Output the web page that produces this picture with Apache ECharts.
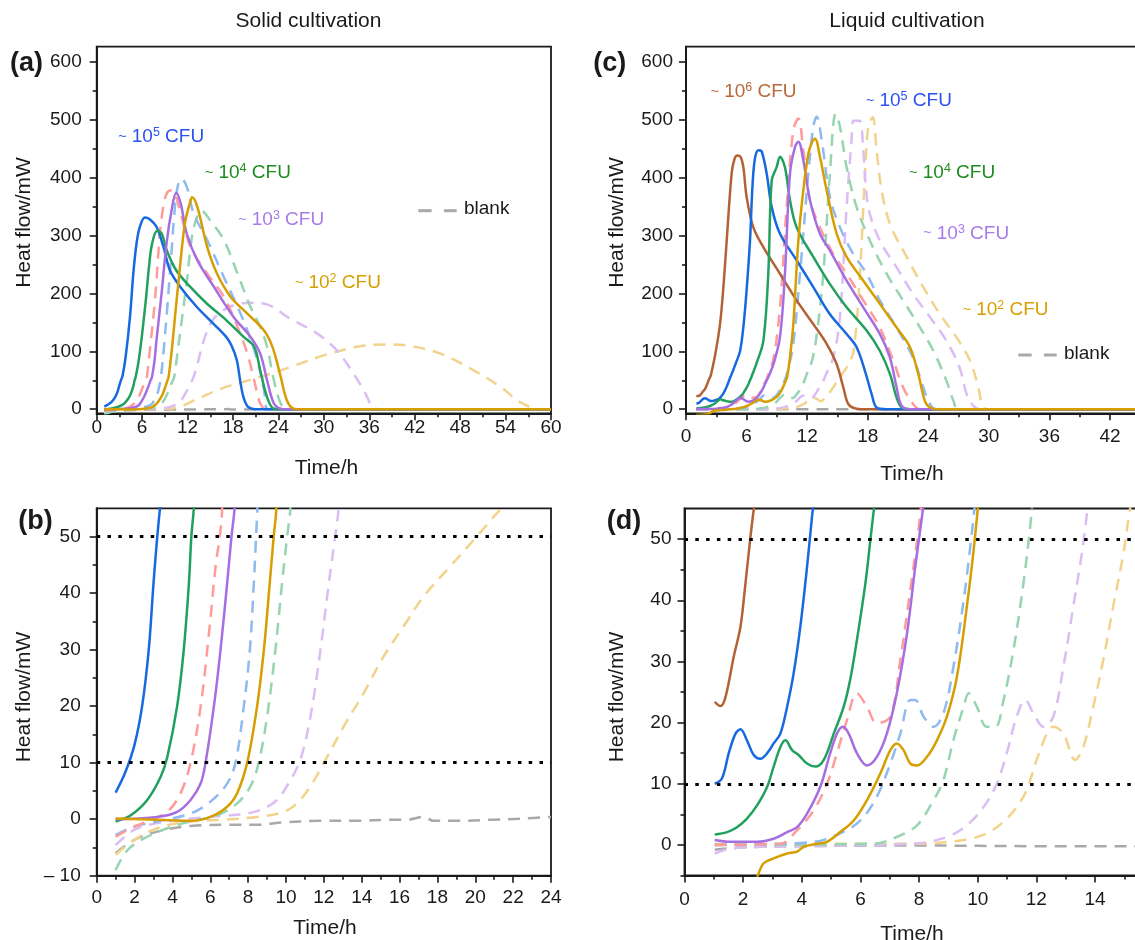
<!DOCTYPE html>
<html><head><meta charset="utf-8">
<script src="https://cdn.jsdelivr.net/npm/echarts@6/dist/echarts.min.js"></script>
<style>html,body{margin:0;padding:0;background:#fff}#c{width:1135px;height:940px}</style>
</head><body><div id="c"></div>
<script>
// ---------------- DATA: solid cultivation (panels a, b) ----------------
const solid5 = [[1,4.7],[1.5,8.2],[2,13.2],[2.4,20],[2.75,30],[3.0,41.7],[3.2,50],[3.4,57],[3.8,88],[4.4,160],[4.84,235],[5.27,287],[5.7,315],[6.37,331],[7.0,328],[7.9,315],[8.8,281],[9.67,240],[11.0,212],[13.2,177],[15.4,148],[17.1,125],[17.8,110],[18.5,85],[19.0,45],[19.4,20],[19.9,5],[20.5,1],[21.5,0],[40,0],[60,0]];
const solid4 = [[1,-0.4],[1.8,0.7],[2.67,3.4],[3.38,7.5],[3.73,11],[4.25,20],[4.6,30],[4.87,41.7],[5.0,50],[5.13,55],[5.5,80],[6.0,130],[6.5,190],[6.9,245],[7.3,285],[8.0,308],[8.6,303],[9.23,275],[10.5,240],[12.3,212],[14.5,183],[17.1,154],[19.4,125],[20.8,108],[21.6,67],[22.5,21],[23.4,1],[24.5,0],[60,0]];
const solid3 = [[1,0],[3.2,0.4],[4.25,1.3],[4.96,3.4],[5.49,6.3],[5.75,10],[6.19,19.9],[6.54,29.9],[6.89,41.7],[7.12,50],[7.28,55],[7.6,80],[7.9,120],[8.57,200],[9.23,287],[9.9,344],[10.5,374],[11.1,355],[11.9,303],[13.3,257],[15.5,211],[18.1,159],[20.3,125],[21.6,96],[22.5,50],[23.4,10],[24.3,1],[25,0],[60,0]];
const solid2 = [[1,0.1],[3.2,-0.1],[4.96,-0.3],[6.01,0.4],[6.89,2.2],[7.42,4.6],[7.95,10],[8.47,19.9],[8.83,29.9],[9.14,41.7],[9.35,50],[9.49,55],[9.9,100],[10.3,154],[11.0,246],[11.65,321],[12.3,356],[12.6,366],[13.3,349],[14.6,280],[15.9,234],[17.7,194],[19.9,165],[22.1,136],[23.2,108],[24.3,56],[25.1,16],[26,1],[27,0],[60,0]];
const solidDashRed = [[1,-3.1],[1.8,-1.6],[2.67,-0.4],[3.73,1.3],[4.43,4.6],[4.96,10],[5.49,19.9],[5.93,32.9],[6.28,44.7],[6.5,50],[6.63,55],[7.0,100],[7.7,189],[8.35,304],[8.8,350],[9.3,374],[9.9,378],[10.4,370],[11.1,338],[12.4,280],[14.6,234],[16.8,194],[18.6,142],[19.9,96],[20.8,50],[21.6,10],[22.5,0],[60,0]];
const solidDashBlue = [[1,-2.8],[1.97,-1.3],[3.2,-0.4],[4.96,1],[6.01,3.1],[6.89,6.3],[7.33,10],[7.77,19.9],[8.09,29.9],[8.3,41.7],[8.42,50],[8.5,56],[8.9,110],[9.3,172],[9.9,275],[10.3,344],[10.7,385],[11.2,398],[11.9,384],[12.8,338],[14.6,292],[16.8,228],[18.6,177],[19.9,136],[21.2,85],[22.1,33],[22.7,0],[60,0]];
const solidDashGreen = [[1,-9],[1.62,-5.5],[2.5,-3.4],[3.73,-1.6],[4.96,-0.4],[6.37,0.7],[7.42,2.8],[8.12,5.8],[8.56,10],[9.0,18.1],[9.44,29.9],[9.79,41.7],[10.06,50],[10.23,55],[10.6,90],[11.3,160],[11.9,220],[12.6,300],[13.2,330],[13.8,343],[15.0,326],[16.8,292],[18.6,234],[20.3,177],[21.6,142],[22.5,108],[23.4,50],[24.3,10],[25.1,0],[60,0]];
const solidDashPurple = [[1,-4.6],[1.97,-1.9],[3.2,-0.7],[4.96,0.1],[6.72,0.6],[7.95,1],[8.83,1.9],[9.53,3.4],[10.23,6.9],[10.76,10.5],[11.29,18.1],[11.82,29.9],[12.26,41.7],[12.6,50],[12.78,55],[13.3,78],[14.3,125],[15.5,157],[17.6,177],[20.3,184],[22.5,181],[25.6,156],[29.1,131],[31.7,102],[33.9,62],[35.5,27],[36.4,4],[37.2,0],[60,0]];
const solidDashGold = [[1,-6.3],[1.97,-3.7],[3.2,-1.6],[4.96,-0.4],[6.72,-0.1],[8.47,0.4],[9.88,1.3],[10.58,2.8],[11.29,5.8],[11.99,9.9],[13.05,16.4],[14.1,22.3],[15.16,28.8],[16.21,34.1],[17.27,39.4],[18.67,44.7],[20.08,50],[21.13,54.1],[22.2,58],[25.6,73],[30,93],[34.4,108],[37.9,112],[41,110],[45.4,96],[49.8,67],[53.3,39],[55.5,16],[57.2,4],[58.5,0],[60,0]];
const solidBlank = [[1,-6],[1.97,-3.7],[3.2,-2.2],[4.96,-1.2],[7.07,-1.0],[8.47,-1.0],[9.7,-0.6],[11.8,-0.3],[13.75,-0.3],[15.5,-0.1],[16.4,-0.1],[17.27,0.4],[17.8,-0.3],[19,-0.3],[20.8,-0.1],[22.5,0.1],[24,0.4]];

// ---------------- DATA: liquid cultivation (panels c, d) ----------------
const liquid6 = [[1.03,23.4],[1.23,22.7],[1.4,24.2],[1.68,30.8],[1.91,35.7],[2.08,42.8],[2.25,50.4],[2.36,54.8],[2.45,58],[2.9,95],[3.37,147],[3.7,210],[4.03,291],[4.52,407],[4.8,432],[5.1,438],[5.4,436],[5.68,418],[6.01,366],[6.67,314],[7.66,280],[9.31,234],[10.96,188],[12.61,147],[13.93,113],[14.92,78],[15.58,38],[16.08,9],[16.9,1],[18,0],[45,0]];
const liquid5 = [[1.03,10],[1.28,10.9],[1.51,15],[1.74,18.2],[1.91,18.9],[2.13,17.1],[2.36,14.7],[2.59,14.1],[2.82,15],[3.04,16.6],[3.27,18.2],[3.5,22.6],[3.72,28],[3.95,35.7],[4.18,45.5],[4.35,53.7],[4.46,58],[4.9,78],[5.35,100],[5.7,145],[6.0,205],[6.34,291],[6.6,390],[6.85,435],[7.2,447],[7.5,445],[7.99,407],[8.49,349],[9.31,303],[10.96,257],[12.61,211],[14.26,164],[15.91,130],[16.9,107],[17.73,66],[18.39,26],[18.88,3],[19.87,0],[45,0]];
const liquid4 = [[1.03,1.7],[1.45,2.1],[1.79,2.9],[2.13,4.3],[2.48,6.5],[2.82,9.5],[3.04,12.8],[3.27,16],[3.44,17.1],[3.67,15.5],[3.89,14.7],[4.18,13.3],[4.46,12.8],[4.75,13.9],[5.09,18.2],[5.43,22.6],[5.65,27],[5.88,33.5],[6.17,42.8],[6.34,49.9],[6.51,57],[7.0,80],[7.66,118],[8.15,234],[8.49,395],[8.98,418],[9.31,436],[9.8,418],[10.3,361],[10.96,314],[12.61,263],[14.26,216],[15.91,176],[17.89,136],[19.2,101],[20.2,61],[20.86,20],[21.36,3],[22.2,0],[45,0]];
const liquid3 = [[1.03,0.8],[1.57,0.5],[2.48,0.5],[3.04,1],[3.5,2.1],[3.84,2.9],[4.18,5.1],[4.63,9.5],[4.97,15],[5.2,18.2],[5.4,19.3],[5.6,18.2],[5.88,15],[6.22,13],[6.56,14.4],[6.9,18.2],[7.24,24.8],[7.59,34.6],[7.87,45.5],[8.1,53.7],[8.22,58],[8.7,80],[9.31,125],[9.8,234],[10.3,407],[10.8,453],[11.13,462],[11.62,430],[12.28,361],[13.27,303],[14.26,274],[15.91,222],[17.56,176],[19.2,130],[20.2,89],[20.86,38],[21.36,6],[22.2,0],[45,0]];
const liquid2 = [[1,-10],[1.8,-9],[2.3,-7.5],[2.5,-5],[2.7,-3],[3.04,-2.2],[3.5,-1.4],[3.84,-1.1],[4.07,-0.3],[4.52,0.2],[4.86,0.5],[5.31,2.1],[5.77,4],[6.22,7.3],[6.68,11.7],[7.02,15.5],[7.24,16.6],[7.47,15.5],[7.7,13.3],[7.93,13],[8.27,14.4],[8.61,17.1],[8.95,21],[9.29,27.5],[9.63,39],[9.86,48.2],[10.03,56.4],[10.3,90],[10.63,147],[11.13,291],[11.62,378],[12.12,441],[12.5,462],[12.78,467],[13.27,436],[13.93,378],[14.92,303],[15.91,263],[17.56,222],[19.2,182],[20.86,141],[22.19,107],[23.0,61],[23.67,14],[24.17,3],[25.2,0],[45,0]];
const liquidDashRed = [[1.03,0],[3.27,0.2],[3.84,2.4],[4.41,5.7],[4.86,10],[5.2,15],[5.54,20.4],[5.88,24.8],[6.22,22.6],[6.56,19.9],[7.02,21],[7.36,30.2],[7.7,41.7],[7.98,51.5],[8.1,57],[8.7,90],[9.31,176],[9.97,349],[10.63,482],[11.13,502],[11.62,447],[12.28,361],[13.27,314],[14.59,268],[15.91,234],[17.56,188],[19.2,141],[20.53,84],[21.5,38],[22.5,9],[23.2,0],[45,0]];
const liquidDashBlue = [[1.03,0],[4.41,0.5],[5.31,1.9],[6.0,4],[6.56,7.9],[7.02,13.3],[7.36,18.2],[7.7,23.7],[7.87,23.7],[8.15,21],[8.49,19.3],[8.83,21.5],[9.17,29.1],[9.52,40],[9.8,51],[9.95,58],[10.6,110],[11.29,234],[12.12,407],[12.61,488],[12.94,505],[13.44,465],[14.26,366],[15.25,314],[16.57,268],[17.89,234],[19.2,188],[20.86,141],[22.5,89],[23.5,38],[24.17,9],[24.8,0],[45,0]];
const liquidDashGreen = [[1.03,0],[6.45,0.2],[7.24,1.3],[7.93,3.2],[8.49,7.3],[8.83,10.6],[9.17,17.1],[9.52,22.6],[9.69,24.8],[9.97,22.6],[10.31,19.3],[10.6,19.3],[10.88,23.7],[11.22,31.9],[11.56,42.8],[11.79,52.1],[11.9,58],[12.5,85],[13.0,135],[13.6,234],[14.26,407],[14.82,510],[15.25,488],[15.91,418],[16.9,349],[18.22,291],[19.87,234],[21.5,188],[23.18,141],[24.5,101],[25.8,49],[26.5,14],[26.97,0],[45,0]];
const liquidDashPurple = [[1.03,-1.4],[1.57,-0.6],[2.7,-0.3],[7.81,0.2],[8.95,1.3],[9.63,3.2],[10.2,6.2],[10.65,10],[10.99,15],[11.33,21],[11.62,23.7],[11.9,21.5],[12.24,19.3],[12.58,21],[12.92,29.1],[13.26,39],[13.6,49.3],[13.81,58],[14.6,90],[15.25,160],[15.91,349],[16.4,465],[16.6,498],[17.2,498],[17.56,447],[18.06,349],[19.2,291],[20.86,245],[22.5,199],[24.17,159],[25.8,118],[27.1,72],[27.8,26],[28.46,6],[29.1,0],[45,0]];
const liquidDashGold = [[1.03,0.2],[7.81,0.2],[9.52,0.8],[10.31,1.9],[10.88,3.8],[11.33,6.2],[11.67,9],[12.01,13.9],[12.36,18.2],[12.58,19.3],[12.92,18.2],[13.32,13.9],[13.6,16],[13.94,22.6],[14.28,30.2],[14.62,39],[14.97,47.7],[15.19,54.8],[15.35,58],[16.0,75],[16.6,100],[17.23,234],[17.73,407],[18.06,488],[18.5,504],[18.88,447],[19.38,378],[20.2,320],[21.86,263],[23.5,211],[25.16,164],[26.8,124],[28.13,84],[28.95,38],[29.45,3],[30.1,0],[45,0]];
const liquidBlank = [[1.03,-0.8],[2,-0.4],[4,-0.2],[8,-0.1],[12,-0.2],[16,-0.2],[25,0],[45,0]];

// thresholds (dotted lines) in panels b, d
const thresholds = [10, 50];

// ---------------- tick values / texts ----------------
const xTicksA = [0,6,12,18,24,30,36,42,48,54,60];
const xMinorA = [3,9,15,21,27,33,39,45,51,57];
const yTicksAC = [0,100,200,300,400,500,600];
const yMinorAC = [50,150,250,350,450,550];
const xTicksB = [0,2,4,6,8,10,12,14,16,18,20,22,24];
const xMinorB = [1,3,5,7,9,11,13,15,17,19,21,23];
const yTicksB = [-10,0,10,20,30,40,50];
const yMinorB = [-5,5,15,25,35,45];
const xTicksC = [0,6,12,18,24,30,36,42];
const xMinorC = [3,9,15,21,27,33,39,45];
const xTicksD = [0,2,4,6,8,10,12,14];
const xMinorD = [1,3,5,7,9,11,13,15];
const yTicksD = [0,10,20,30,40,50];
const yMinorD = [-5,5,15,25,35,45];

const titleSolid = 'Solid cultivation';
const titleLiquid = 'Liquid cultivation';
const yName = 'Heat flow/mW';
const xName = 'Time/h';
const panelTags = ['(a)','(b)','(c)','(d)'];
const solidExps = ['5','4','3','2'];
const liquidExps = ['6','5','4','3','2'];
const blankText = 'blank';

// ---------------- styles ----------------
const FONT = '"Liberation Sans", Arial, Helvetica, sans-serif';
const INK = '#1a1a1a';
const C = {
  blue:'#1769e0', green:'#22a05e', purple:'#a66ee3', gold:'#d69e00', brown:'#b36236',
  dRed:'#ff9b9b', dBlue:'#8fbaf0', dGreen:'#97d4b0', dPurple:'#dbbdf3', dGold:'#f2d38c', gray:'#a9a9a9'
};
const LC = { e6:'#b8683a', e5:'#2b52f2', e4:'#1e8c1e', e3:'#a87be8', e2:'#d6a000' };

const grids = [], xAxes = [], yAxes = [], series = [], graphic = [];

function addPanel(p) {
  const gi = grids.length;
  grids.push({left:p.left, top:p.top, width:p.width, height:p.height, show:true,
    borderColor:INK, borderWidth:1.8, backgroundColor:'transparent', containLabel:false, outerBoundsMode:'none'});
  const lineS = {color:INK, width:2};
  const tickS = {color:INK, width:1.6};
  const xi = xAxes.length;
  xAxes.push({type:'value', gridIndex:gi, position:'bottom', min:p.xMin, max:p.xMax,
    axisLine:{show:true, onZero:false, lineStyle:lineS},
    axisTick:{show:true, inside:false, length:7, customValues:p.xTicks, lineStyle:tickS},
    axisLabel:{show:true, customValues:p.xTicks, margin:p.xMargin, fontSize:19, fontFamily:FONT, color:INK},
    splitLine:{show:false}, minorTick:{show:false}});
  xAxes.push({type:'value', gridIndex:gi, position:'bottom', min:p.xMin, max:p.xMax,
    axisLine:{show:false, onZero:false},
    axisTick:{show:true, length:4, customValues:p.xMinor, lineStyle:tickS},
    axisLabel:{show:false}, splitLine:{show:false}});
  const yi = yAxes.length;
  yAxes.push({type:'value', gridIndex:gi, position:'left', min:p.yMin, max:p.yMax,
    axisLine:{show:true, onZero:false, lineStyle:lineS},
    axisTick:{show:true, length:7, customValues:p.yTicks, lineStyle:tickS},
    axisLabel:{show:true, customValues:p.yTicks, margin:p.yMargin, fontSize:19, fontFamily:FONT, color:INK,
      formatter: v => v < 0 ? '\u2013 ' + Math.abs(v) : String(v)},
    splitLine:{show:false}});
  yAxes.push({type:'value', gridIndex:gi, position:'left', min:p.yMin, max:p.yMax,
    axisLine:{show:false, onZero:false},
    axisTick:{show:true, length:4, customValues:p.yMinor, lineStyle:tickS},
    axisLabel:{show:false}, splitLine:{show:false}});
  return {xi, yi, yMax:p.yMax};
}

// zoomed panels (b, d) show each record only until it leaves the top of the plot
function untilExit(data, yMax) {
  const out = [];
  for (const p of data) { out.push(p); if (p[1] > yMax) break; }
  return out;
}

function line(data, ax, color, dashed, extra) {
  const d = ax.zoomed ? untilExit(data, ax.yMax) : data;
  const s = {type:'line', xAxisIndex:ax.xi, yAxisIndex:ax.yi, data:d, showSymbol:false, symbol:'none',
    smooth:0.35, clip:true, silent:true, animation:false, emphasis:{disabled:true},
    lineStyle:{color:color, width:2.5, type: dashed ? [12,8] : 'solid', cap:'butt'},
    z: dashed ? 2 : 3};
  return Object.assign(s, extra || {});
}

function dotted() {
  return {silent:true, symbol:'none', animation:false,
    label:{show:false}, emphasis:{disabled:true},
    lineStyle:{color:'#000', type:[3.5,7.3], width:3, cap:'butt'},
    data: thresholds.map(v => ({yAxis:v}))};
}

function addSolidSeries(ax) {
  series.push(line(solidBlank, ax, C.gray, true, ax.zoomed ? {markLine:dotted()} : {}));
  series.push(line(solidDashGold, ax, C.dGold, true));
  series.push(line(solidDashPurple, ax, C.dPurple, true));
  series.push(line(solidDashGreen, ax, C.dGreen, true));
  series.push(line(solidDashBlue, ax, C.dBlue, true));
  series.push(line(solidDashRed, ax, C.dRed, true));
  series.push(line(solid5, ax, C.blue, false));
  series.push(line(solid4, ax, C.green, false));
  series.push(line(solid3, ax, C.purple, false));
  series.push(line(solid2, ax, C.gold, false));
}
function addLiquidSeries(ax) {
  series.push(line(liquidBlank, ax, C.gray, true, ax.zoomed ? {markLine:dotted()} : {}));
  series.push(line(liquidDashGold, ax, C.dGold, true));
  series.push(line(liquidDashPurple, ax, C.dPurple, true));
  series.push(line(liquidDashGreen, ax, C.dGreen, true));
  series.push(line(liquidDashBlue, ax, C.dBlue, true));
  series.push(line(liquidDashRed, ax, C.dRed, true));
  series.push(line(liquid6, ax, C.brown, false));
  series.push(line(liquid5, ax, C.blue, false));
  series.push(line(liquid4, ax, C.green, false));
  series.push(line(liquid3, ax, C.purple, false));
  series.push(line(liquid2, ax, C.gold, false));
}

const axA = addPanel({left:96.7, top:46.7, width:454.3, height:366.6, xMin:0, xMax:60, yMin:-7, yMax:626,
  xTicks:xTicksA, xMinor:xMinorA, yTicks:yTicksAC, yMinor:yMinorAC, xMargin:5, yMargin:15});
const axB = addPanel({left:96.7, top:508.3, width:454.3, height:367.4, xMin:0, xMax:24, yMin:-10, yMax:55,
  xTicks:xTicksB, xMinor:xMinorB, yTicks:yTicksB, yMinor:yMinorB, xMargin:13, yMargin:16});
const axC = addPanel({left:686, top:46.7, width:454.3, height:366.6, xMin:0, xMax:45, yMin:-7, yMax:626,
  xTicks:xTicksC, xMinor:xMinorC, yTicks:yTicksAC, yMinor:yMinorAC, xMargin:14, yMargin:13});
const axD = addPanel({left:684.5, top:508.5, width:454.5, height:367, xMin:0, xMax:15.5, yMin:-5, yMax:55,
  xTicks:xTicksD, xMinor:xMinorD, yTicks:yTicksD, yMinor:yMinorD, xMargin:15, yMargin:13});
axB.zoomed = true;
axD.zoomed = true;

addSolidSeries(axA);
addSolidSeries(axB);
addLiquidSeries(axC);
addLiquidSeries(axD);

// ---------------- text annotations ----------------
function text(x, y, str, opt) {
  opt = opt || {};
  graphic.push({type:'text', x:x, y:y, rotation:opt.rotation || 0, silent:true, z:100,
    style:{text:str, fontSize:opt.size || 21, fontFamily:FONT, fontWeight:opt.weight || 'normal',
      fill:opt.color || INK, align:opt.align || 'center', verticalAlign:'middle',
      textAlign:opt.align || 'center', textVerticalAlign:'middle'}});
}
function cfu(x, y, exp, color) {
  graphic.push({type:'text', x:x, y:y, silent:true, z:100,
    style:{text:'{t|~} {n|10}{s|' + exp + '} {n|CFU}', fill:color, fontFamily:FONT, fontSize:19,
      align:'left', verticalAlign:'middle', textAlign:'left', textVerticalAlign:'middle',
      rich:{
        t:{fontSize:14, fontFamily:FONT, fill:color, color:color, lineHeight:21},
        n:{fontSize:19, fontFamily:FONT, fill:color, color:color, lineHeight:21},
        s:{fontSize:12.5, fontFamily:FONT, fill:color, color:color, lineHeight:13, verticalAlign:'top'}
      }}});
}
function blankKey(x1, y, tx) {
  graphic.push({type:'line', silent:true, z:100, shape:{x1:x1, y1:y, x2:x1+13.4, y2:y}, style:{stroke:C.gray, lineWidth:3}});
  graphic.push({type:'line', silent:true, z:100, shape:{x1:x1+25.7, y1:y, x2:x1+38.4, y2:y}, style:{stroke:C.gray, lineWidth:3}});
  text(tx, y - 1.5, blankText, {size:19, align:'left'});
}

text(308.5, 21.7, titleSolid);
text(907, 21.7, titleLiquid);
text(10, 64, panelTags[0], {size:27, weight:'bold', align:'left'});
text(18.3, 521.7, panelTags[1], {size:27, weight:'bold', align:'left'});
text(593.3, 64, panelTags[2], {size:27, weight:'bold', align:'left'});
text(606.7, 522, panelTags[3], {size:27, weight:'bold', align:'left'});
text(24, 222.5, yName, {rotation:Math.PI/2});
text(24, 697, yName, {rotation:Math.PI/2});
text(617, 222.5, yName, {rotation:Math.PI/2});
text(617, 697, yName, {rotation:Math.PI/2});
text(326.5, 468.3, xName);
text(325, 928, xName);
text(912, 474, xName);
text(912, 934.5, xName);

cfu(118.3, 137, solidExps[0], LC.e5);
cfu(205, 173, solidExps[1], LC.e4);
cfu(238.3, 219.7, solidExps[2], LC.e3);
cfu(295, 282.7, solidExps[3], LC.e2);
blankKey(418.3, 210.7, 464);

cfu(710.7, 91.7, liquidExps[0], LC.e6);
cfu(866, 100.7, liquidExps[1], LC.e5);
cfu(909.3, 172.7, liquidExps[2], LC.e4);
cfu(923.3, 233.3, liquidExps[3], LC.e3);
cfu(962.7, 310, liquidExps[4], LC.e2);
blankKey(1018.3, 355, 1064);

const chart = echarts.init(document.getElementById('c'), null, {renderer:'canvas'});
chart.setOption({
  animation:false,
  backgroundColor:'#ffffff',
  grid:grids, xAxis:xAxes, yAxis:yAxes, series:series, graphic:graphic
});
</script></body></html>
